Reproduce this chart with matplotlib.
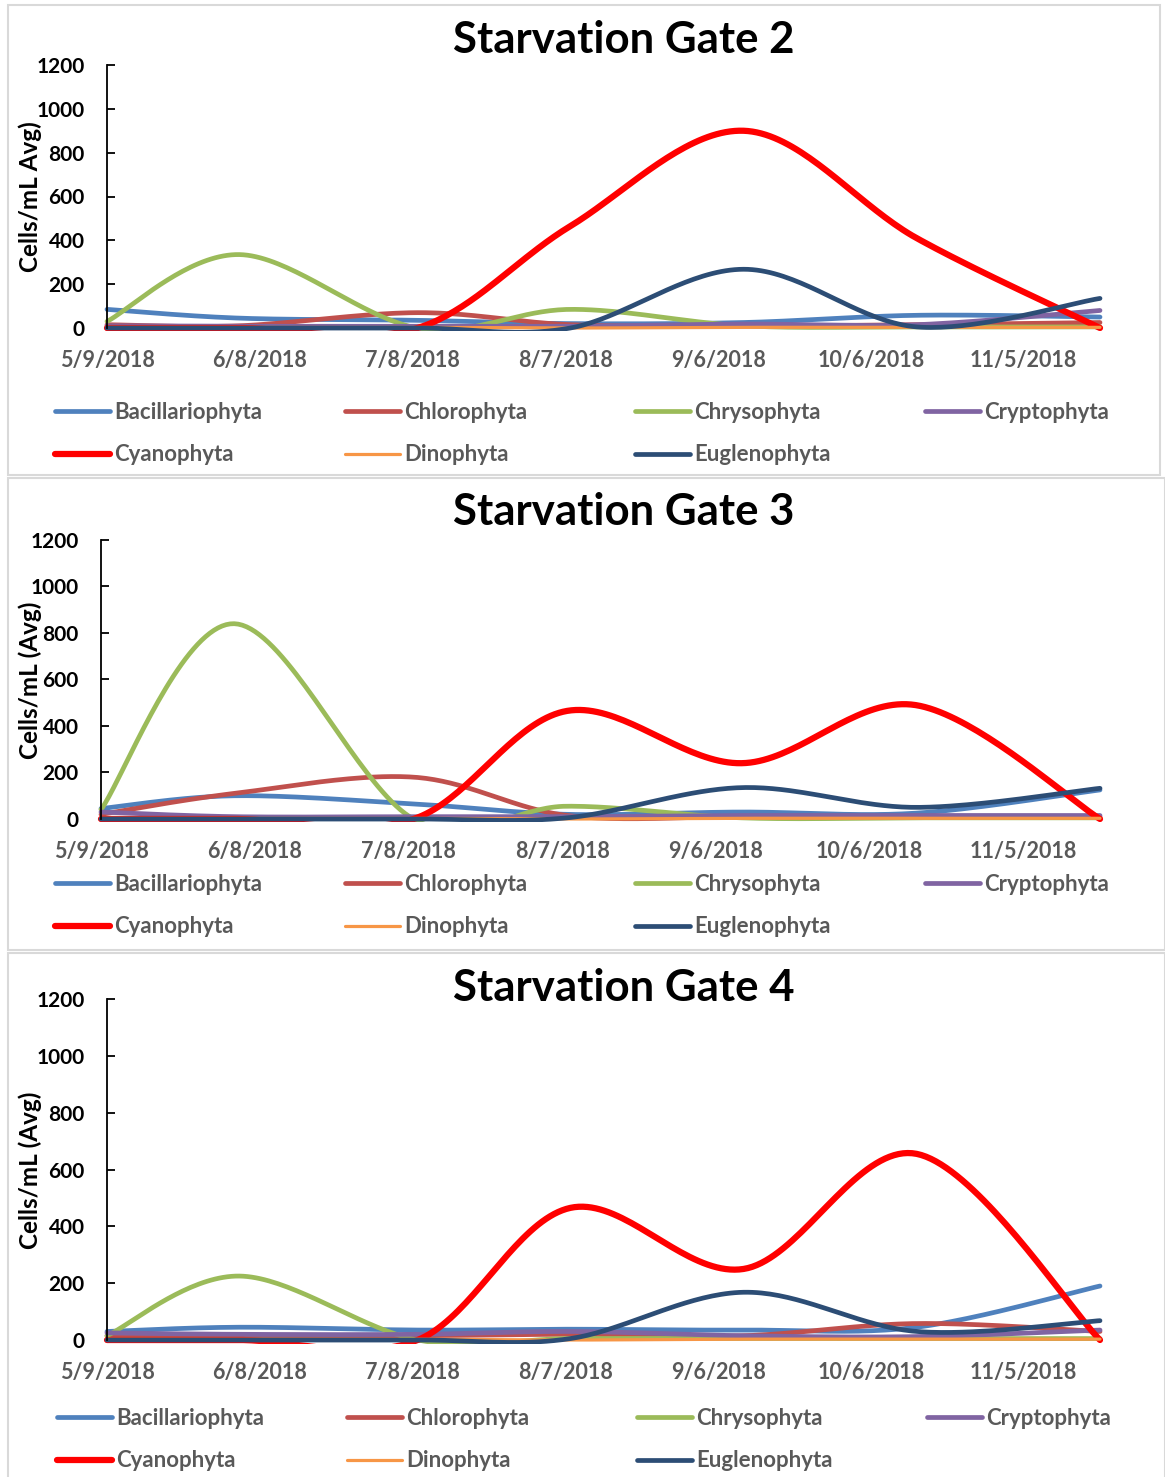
import datetime as dt
import numpy as np
import matplotlib
matplotlib.use('Agg')
import matplotlib.pyplot as plt
import matplotlib.dates as mdates
from matplotlib.patches import Rectangle
from matplotlib.lines import Line2D

plt.rcParams['font.family'] = ['Lato', 'DejaVu Sans']
plt.rcParams['font.weight'] = 'bold'

# sampling dates and axis ticks
sample_dates = ['2018-05-09', '2018-06-04', '2018-07-09', '2018-08-08',
                '2018-09-11', '2018-10-15', '2018-11-20']
tick_dates = ['2018-05-09', '2018-06-08', '2018-07-08', '2018-08-07',
              '2018-09-06', '2018-10-06', '2018-11-05']
tick_labels = ['5/9/2018', '6/8/2018', '7/8/2018', '8/7/2018',
               '9/6/2018', '10/6/2018', '11/5/2018']

series_names = ['Bacillariophyta', 'Chlorophyta', 'Chrysophyta', 'Cryptophyta',
                'Cyanophyta', 'Dinophyta', 'Euglenophyta']
series_colors = ['#4F81BD', '#C0504D', '#9BBB59', '#8064A2',
                 '#FF0000', '#F79646', '#2C4D75']
series_widths = [3.4, 3.4, 3.4, 3.4, 4.5, 2.3, 3.4]

# Starvation Gate 2
g2_bacillariophyta = [85, 45, 35, 20, 25, 58, 50]
g2_chlorophyta = [15, 10, 70, 15, 10, 15, 25]
g2_chrysophyta = [30, 335, 0, 85, 10, 5, 5]
g2_cryptophyta = [10, 8, 8, 8, 18, 15, 80]
g2_cyanophyta = [0, 0, 0, 465, 900, 410, 0]
g2_dinophyta = [3, 3, 3, 0, 3, 3, 3]
g2_euglenophyta = [0, 0, 0, 0, 268, 5, 135]

# Starvation Gate 3
g3_bacillariophyta = [45, 100, 65, 20, 30, 25, 125]
g3_chlorophyta = [20, 110, 180, 15, 10, 10, 10]
g3_chrysophyta = [40, 840, 0, 55, 5, 5, 5]
g3_cryptophyta = [30, 10, 10, 10, 15, 15, 15]
g3_cyanophyta = [0, 0, 0, 465, 240, 490, 0]
g3_dinophyta = [3, 3, 3, 0, 3, 3, 3]
g3_euglenophyta = [0, 0, 0, 5, 135, 50, 132]

# Starvation Gate 4
g4_bacillariophyta = [30, 45, 35, 38, 35, 45, 190]
g4_chlorophyta = [15, 15, 15, 20, 15, 58, 30]
g4_chrysophyta = [15, 225, 0, 5, 5, 5, 5]
g4_cryptophyta = [25, 20, 20, 30, 15, 12, 35]
g4_cyanophyta = [0, 0, 0, 465, 250, 655, 0]
g4_dinophyta = [3, 3, 3, 0, 3, 3, 3]
g4_euglenophyta = [0, 0, 0, 5, 168, 30, 68]

gates = [
    ('Starvation Gate 2', 'Cells/mL Avg)',
     [g2_bacillariophyta, g2_chlorophyta, g2_chrysophyta, g2_cryptophyta,
      g2_cyanophyta, g2_dinophyta, g2_euglenophyta]),
    ('Starvation Gate 3', 'Cells/mL (Avg)',
     [g3_bacillariophyta, g3_chlorophyta, g3_chrysophyta, g3_cryptophyta,
      g3_cyanophyta, g3_dinophyta, g3_euglenophyta]),
    ('Starvation Gate 4', 'Cells/mL (Avg)',
     [g4_bacillariophyta, g4_chlorophyta, g4_chrysophyta, g4_cryptophyta,
      g4_cyanophyta, g4_dinophyta, g4_euglenophyta]),
]

W, H = 1165, 1477
# layout in pixels: panel box, axes (left, right, top, bottom), title y, ylabel y, legend top y, legend x0
layout = [
    dict(box=(8, 5, 1160, 475), ax=(107, 1100, 65, 328), title=40, ylab=197, leg=402, legx=55),
    dict(box=(8, 478, 1165, 950), ax=(101, 1100, 540, 819), title=512, ylab=680, leg=874, legx=55),
    dict(box=(8, 953, 1165, 1480), ax=(107, 1100, 999, 1340), title=988, ylab=1170, leg=1408, legx=57),
]


def excel_smooth(x, y, n=40):
    # cubic bezier through the points, like Excel's "smoothed line"
    x = np.asarray(x, float)
    y = np.asarray(y, float)
    px = np.concatenate([[x[0]], x, [x[-1]]])
    py = np.concatenate([[y[0]], y, [y[-1]]])
    t = np.linspace(0, 1, n)[:, None]
    outx, outy = [], []
    for i in range(1, len(px) - 2):
        c1x = px[i] + (px[i + 1] - px[i - 1]) / 6
        c1y = py[i] + (py[i + 1] - py[i - 1]) / 6
        c2x = px[i + 1] - (px[i + 2] - px[i]) / 6
        c2y = py[i + 1] - (py[i + 2] - py[i]) / 6
        bx = ((1 - t) ** 3 * px[i] + 3 * (1 - t) ** 2 * t * c1x
              + 3 * (1 - t) * t ** 2 * c2x + t ** 3 * px[i + 1])
        by = ((1 - t) ** 3 * py[i] + 3 * (1 - t) ** 2 * t * c1y
              + 3 * (1 - t) * t ** 2 * c2y + t ** 3 * py[i + 1])
        outx.append(bx.ravel())
        outy.append(by.ravel())
    return np.concatenate(outx), np.concatenate(outy)


xdates = mdates.date2num([dt.date.fromisoformat(d) for d in sample_dates])
xticks = mdates.date2num([dt.date.fromisoformat(d) for d in tick_dates])

fig = plt.figure(figsize=(W / 100, H / 100), dpi=100)

for (title, ylabel, values), lay in zip(gates, layout):
    bx0, by0, bx1, by1 = lay['box']
    fig.patches.append(Rectangle((bx0 / W, 1 - by1 / H), (bx1 - bx0) / W, (by1 - by0) / H,
                                 transform=fig.transFigure, fill=False,
                                 edgecolor='#D9D9D9', lw=1.5))
    l, r, t, b = lay['ax']
    ax = fig.add_axes([l / W, 1 - b / H, (r - l) / W, (b - t) / H])
    # let lines sitting on zero show fully, hide the small overshoots below
    clip = Rectangle((-0.01, -0.012), 1.02, 1.03, transform=ax.transAxes)
    for vals, col, lw in zip(values, series_colors, series_widths):
        sx, sy = excel_smooth(xdates, vals)
        line, = ax.plot(sx, sy, color=col, lw=lw, solid_capstyle='round')
        line.set_clip_path(clip)

    ax.set_xlim(xdates[0], xdates[-1])
    ax.set_ylim(0, 1200)
    ax.set_yticks(range(0, 1201, 200))
    ax.set_xticks(xticks)
    ax.set_xticklabels(tick_labels)
    for s in ['top', 'right', 'bottom']:
        ax.spines[s].set_visible(False)
    ax.spines['left'].set_linewidth(1.3)
    ax.tick_params(axis='y', direction='in', length=6, width=1.3, pad=16,
                   labelsize=15, labelcolor='black')
    ax.tick_params(axis='x', length=0, pad=16, labelsize=15.5, labelcolor='#595959')

    fig.text(624 / W, 1 - lay['title'] / H, title, ha='center', va='center',
             fontsize=31.5, fontweight='bold', color='black')
    fig.text(30 / W, 1 - lay['ylab'] / H, ylabel, ha='center', va='center',
             rotation=90, fontsize=17.5, fontweight='bold', color='black')

    # legend: 4 equal-width columns, two rows
    for c in range(4):
        idx = [c, c + 4] if c + 4 < len(series_names) else [c]
        handles = [Line2D([], [], color=series_colors[i], lw=series_widths[i],
                          solid_capstyle='round') for i in idx]
        labels = [series_names[i] for i in idx]
        leg = fig.legend(handles, labels, loc='upper left',
                         bbox_to_anchor=((lay['legx'] + 290 * c) / W, 1 - lay['leg'] / H),
                         frameon=False, fontsize=16, handlelength=2.48,
                         handletextpad=0.18, labelspacing=0.96, borderpad=0,
                         borderaxespad=0)
        for txt in leg.get_texts():
            txt.set_color('#595959')

fig.savefig('out.png', dpi=100, facecolor='white')
